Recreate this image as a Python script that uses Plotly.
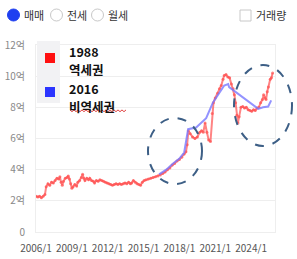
import plotly.graph_objects as go

# ---- data ----
red_years = [2006.0, 2006.15, 2006.3, 2006.45, 2006.6, 2006.75, 2006.85, 2007.0, 2007.15, 2007.3,
             2007.45, 2007.6, 2007.75, 2007.9, 2008.0, 2008.1, 2008.2, 2008.3, 2008.45, 2008.6,
             2008.7, 2008.8, 2008.9, 2009.0, 2009.1, 2009.25, 2009.4, 2009.5, 2009.65, 2009.8,
             2009.9, 2010.0, 2010.1, 2010.25, 2010.4, 2010.5, 2010.65, 2010.8, 2010.9, 2011.05,
             2011.2, 2011.35, 2011.5, 2011.65, 2011.8, 2011.95, 2012.1, 2012.25, 2012.4, 2012.55,
             2012.7, 2012.85, 2013.0, 2013.15, 2013.3, 2013.45, 2013.6, 2013.75, 2013.9, 2014.0,
             2014.15, 2014.3, 2014.45, 2014.6, 2014.75, 2014.9, 2015.05, 2015.2, 2015.4, 2015.6,
             2015.8, 2016.0, 2016.2, 2016.4, 2016.6, 2016.8, 2017.0, 2017.2, 2017.4, 2017.6,
             2017.8, 2018.0, 2018.2, 2018.4, 2018.55, 2018.65, 2018.75, 2018.9, 2019.1, 2019.3,
             2019.5, 2019.7, 2019.85, 2020.0, 2020.15, 2020.3, 2020.45, 2020.6, 2020.75, 2020.85,
             2021.0, 2021.2, 2021.35, 2021.5, 2021.65, 2021.75, 2021.9, 2022.05, 2022.2, 2022.35,
             2022.5, 2022.6, 2022.7, 2022.8, 2022.9, 2023.0, 2023.15, 2023.3, 2023.45, 2023.6,
             2023.75, 2023.9, 2024.05, 2024.2, 2024.35, 2024.5, 2024.65, 2024.8, 2024.95, 2025.05,
             2025.15, 2025.25, 2025.35, 2025.45, 2025.6, 2025.7, 2025.8]
red_values = [2.3, 2.25, 2.3, 2.2, 2.3, 2.4, 2.9, 3.1, 3.0, 3.2,
              3.15, 3.3, 3.45, 3.4, 3.55, 3.2, 3.0, 3.25, 3.45, 3.5,
              3.6, 3.4, 3.1, 2.8, 2.9, 3.05, 2.95, 3.2, 3.3, 3.5,
              3.7, 3.45, 3.3, 3.45, 3.35, 3.45, 3.3, 3.25, 3.15, 3.3,
              3.25, 3.35, 3.3, 3.25, 3.2, 3.15, 3.1, 3.05, 3.0, 3.05,
              3.1, 3.05, 3.1, 3.05, 3.1, 3.15, 3.1, 3.2, 3.1, 3.15,
              3.3, 3.2, 3.1, 3.05, 3.0, 3.2, 3.3, 3.35, 3.4, 3.45,
              3.5, 3.55, 3.6, 3.65, 3.75, 3.85, 4.0, 4.1, 4.3, 4.4,
              4.55, 4.65, 4.8, 5.0, 5.15, 5.6, 6.5, 6.3, 6.1, 6.0,
              6.1, 6.4, 6.5, 6.4, 7.0, 6.4, 5.9, 5.8, 7.6, 8.3,
              8.6, 8.9, 9.2, 9.4, 9.8, 10.05, 10.1, 9.95, 9.9, 9.5,
              9.2, 8.8, 8.3, 7.5, 7.0, 7.4, 8.0, 8.05, 7.95, 8.0,
              7.85, 7.8, 7.75, 7.85, 7.8, 7.95, 8.0, 8.3, 8.5, 8.8,
              8.6, 8.5, 9.0, 9.3, 9.8, 9.9, 10.2]

blue_years = [2016.3, 2016.9, 2017.47, 2017.98, 2018.4, 2018.73, 2019.4, 2020.24, 2020.8,
              2021.24, 2021.75, 2022.08, 2022.16, 2024.6, 2025.0, 2025.43, 2025.68]
blue_values = [3.7, 4.0, 4.4, 4.7, 5.1, 6.6, 6.7, 7.3, 8.3,
               8.8, 9.4, 9.5, 9.3, 7.9, 8.0, 8.05, 8.45]

y_tickvals = [0, 2, 4, 6, 8, 10, 12]
y_ticktext = ["0", "2억", "4억", "6억", "8억", "10억", "12억"]
x_tickvals = [2006, 2009, 2012, 2015, 2018, 2021, 2024]
x_ticktext = ["2006/1", "2009/1", "2012/1", "2015/1", "2018/1", "2021/1", "2024/1"]

legend_labels = ["1988", "역세권", "2016", "비역세권"]
radio_labels = ["매매", "전세", "월세"]
checkbox_label = "거래량"

FONT = "Noto Sans CJK KR, Noto Sans, sans-serif"
W, H = 297, 259
L, R, T, B = 36, 275, 45, 232


def px(x):
    return (x - L) / (R - L)


def py(y):
    return (B - y) / (B - T)


fig = go.Figure()
fig.add_trace(go.Scatter(
    x=red_years, y=red_values, mode="lines+markers",
    line=dict(color="rgba(255,80,80,0.7)", width=2),
    marker=dict(color="rgba(255,80,80,0.7)", size=3),
    showlegend=False, hoverinfo="skip"))
fig.add_trace(go.Scatter(
    x=blue_years, y=blue_values, mode="lines",
    line=dict(color="rgba(120,120,255,0.8)", width=2),
    showlegend=False, hoverinfo="skip"))

shapes = []
# dashed ellipses
for x0, y0, x1, y1 in [(148, 118, 202, 184), (234, 65, 292, 146)]:
    shapes.append(dict(type="circle", xref="paper", yref="paper",
                       x0=px(x0), x1=px(x1), y0=py(y1), y1=py(y0),
                       line=dict(color="#3d5f86", width=2, dash="dash"),
                       layer="above"))
# legend panel
shapes.append(dict(type="rect", xref="paper", yref="paper",
                   x0=px(37), x1=px(60), y0=py(103), y1=py(41),
                   fillcolor="#f2f2f4", line=dict(width=0), layer="above"))
shapes.append(dict(type="rect", xref="paper", yref="paper",
                   x0=px(45), x1=px(55), y0=py(63), y1=py(53),
                   fillcolor="#ff1010", line=dict(width=0), layer="above"))
shapes.append(dict(type="rect", xref="paper", yref="paper",
                   x0=px(45), x1=px(55), y0=py(97), y1=py(87),
                   fillcolor="#2b35ff", line=dict(width=0), layer="above"))
# spell-check squiggle under last label
pts = []
xx = 70.0
i = 0
while xx <= 126:
    yy = 110.5 + (1.2 if i % 2 else -0.6)
    pts.append(("M" if i == 0 else "L") + f"{px(xx):.4f},{py(yy):.4f}")
    xx += 2.0
    i += 1
shapes.append(dict(type="path", xref="paper", yref="paper", path=" ".join(pts),
                   line=dict(color="#e04040", width=1), layer="above"))

# radio buttons
radio_x = [13.5, 56.5, 97.5]
for k, cx in enumerate(radio_x):
    r = 6
    if k == 0:
        shapes.append(dict(type="circle", xref="paper", yref="paper",
                           x0=px(cx - r), x1=px(cx + r), y0=py(15 + r), y1=py(15 - r),
                           fillcolor="#1f3ff0", line=dict(color="#1f3ff0", width=1)))
    else:
        shapes.append(dict(type="circle", xref="paper", yref="paper",
                           x0=px(cx - r), x1=px(cx + r), y0=py(15 + r), y1=py(15 - r),
                           fillcolor="white", line=dict(color="#c8c8c8", width=1)))
# checkbox
shapes.append(dict(type="rect", xref="paper", yref="paper",
                   x0=px(240), x1=px(251), y0=py(21), y1=py(10),
                   fillcolor="white", line=dict(color="#c8c8c8", width=1)))

annotations = []
text_x = [22, 65, 106]
for lab, tx in zip(radio_labels, text_x):
    annotations.append(dict(text=lab, xref="paper", yref="paper", x=px(tx), y=py(15),
                            xanchor="left", yanchor="middle", showarrow=False,
                            font=dict(family=FONT, size=11, color="#333333")))
annotations.append(dict(text=checkbox_label, xref="paper", yref="paper", x=px(254), y=py(15),
                        xanchor="left", yanchor="middle", showarrow=False,
                        font=dict(family=FONT, size=11, color="#333333")))
for lab, yc in zip(legend_labels, [51, 69.5, 88, 106.5]):
    annotations.append(dict(text=f"<b>{lab}</b>", xref="paper", yref="paper",
                            x=px(68), y=py(yc), align="left", borderpad=0,
                            xanchor="left", yanchor="middle", showarrow=False,
                            font=dict(family=FONT, size=12.5, color="#111111")))

fig.update_layout(
    width=W, height=H,
    margin=dict(l=L, r=W - R, t=T, b=H - B),
    paper_bgcolor="white", plot_bgcolor="white",
    shapes=shapes, annotations=annotations,
    font=dict(family=FONT),
    xaxis=dict(range=[2006.0, 2026.0], tickvals=x_tickvals, ticktext=x_ticktext,
               showgrid=False, zeroline=False, showline=True, mirror=True,
               linecolor="#eeeeee", linewidth=1, ticks="", automargin=False,
               ticklabelstandoff=7,
               tickfont=dict(family=FONT, size=10, color="#555555")),
    yaxis=dict(range=[0, 12], tickvals=y_tickvals, ticktext=y_ticktext,
               showgrid=True, gridcolor="#eeeeee", gridwidth=1, zeroline=False,
               showline=True, mirror=True, linecolor="#eeeeee", linewidth=1, ticks="",
               automargin=False, ticklabelstandoff=8,
               tickfont=dict(family=FONT, size=10, color="#888888")),
)

fig.write_html("out.html")
